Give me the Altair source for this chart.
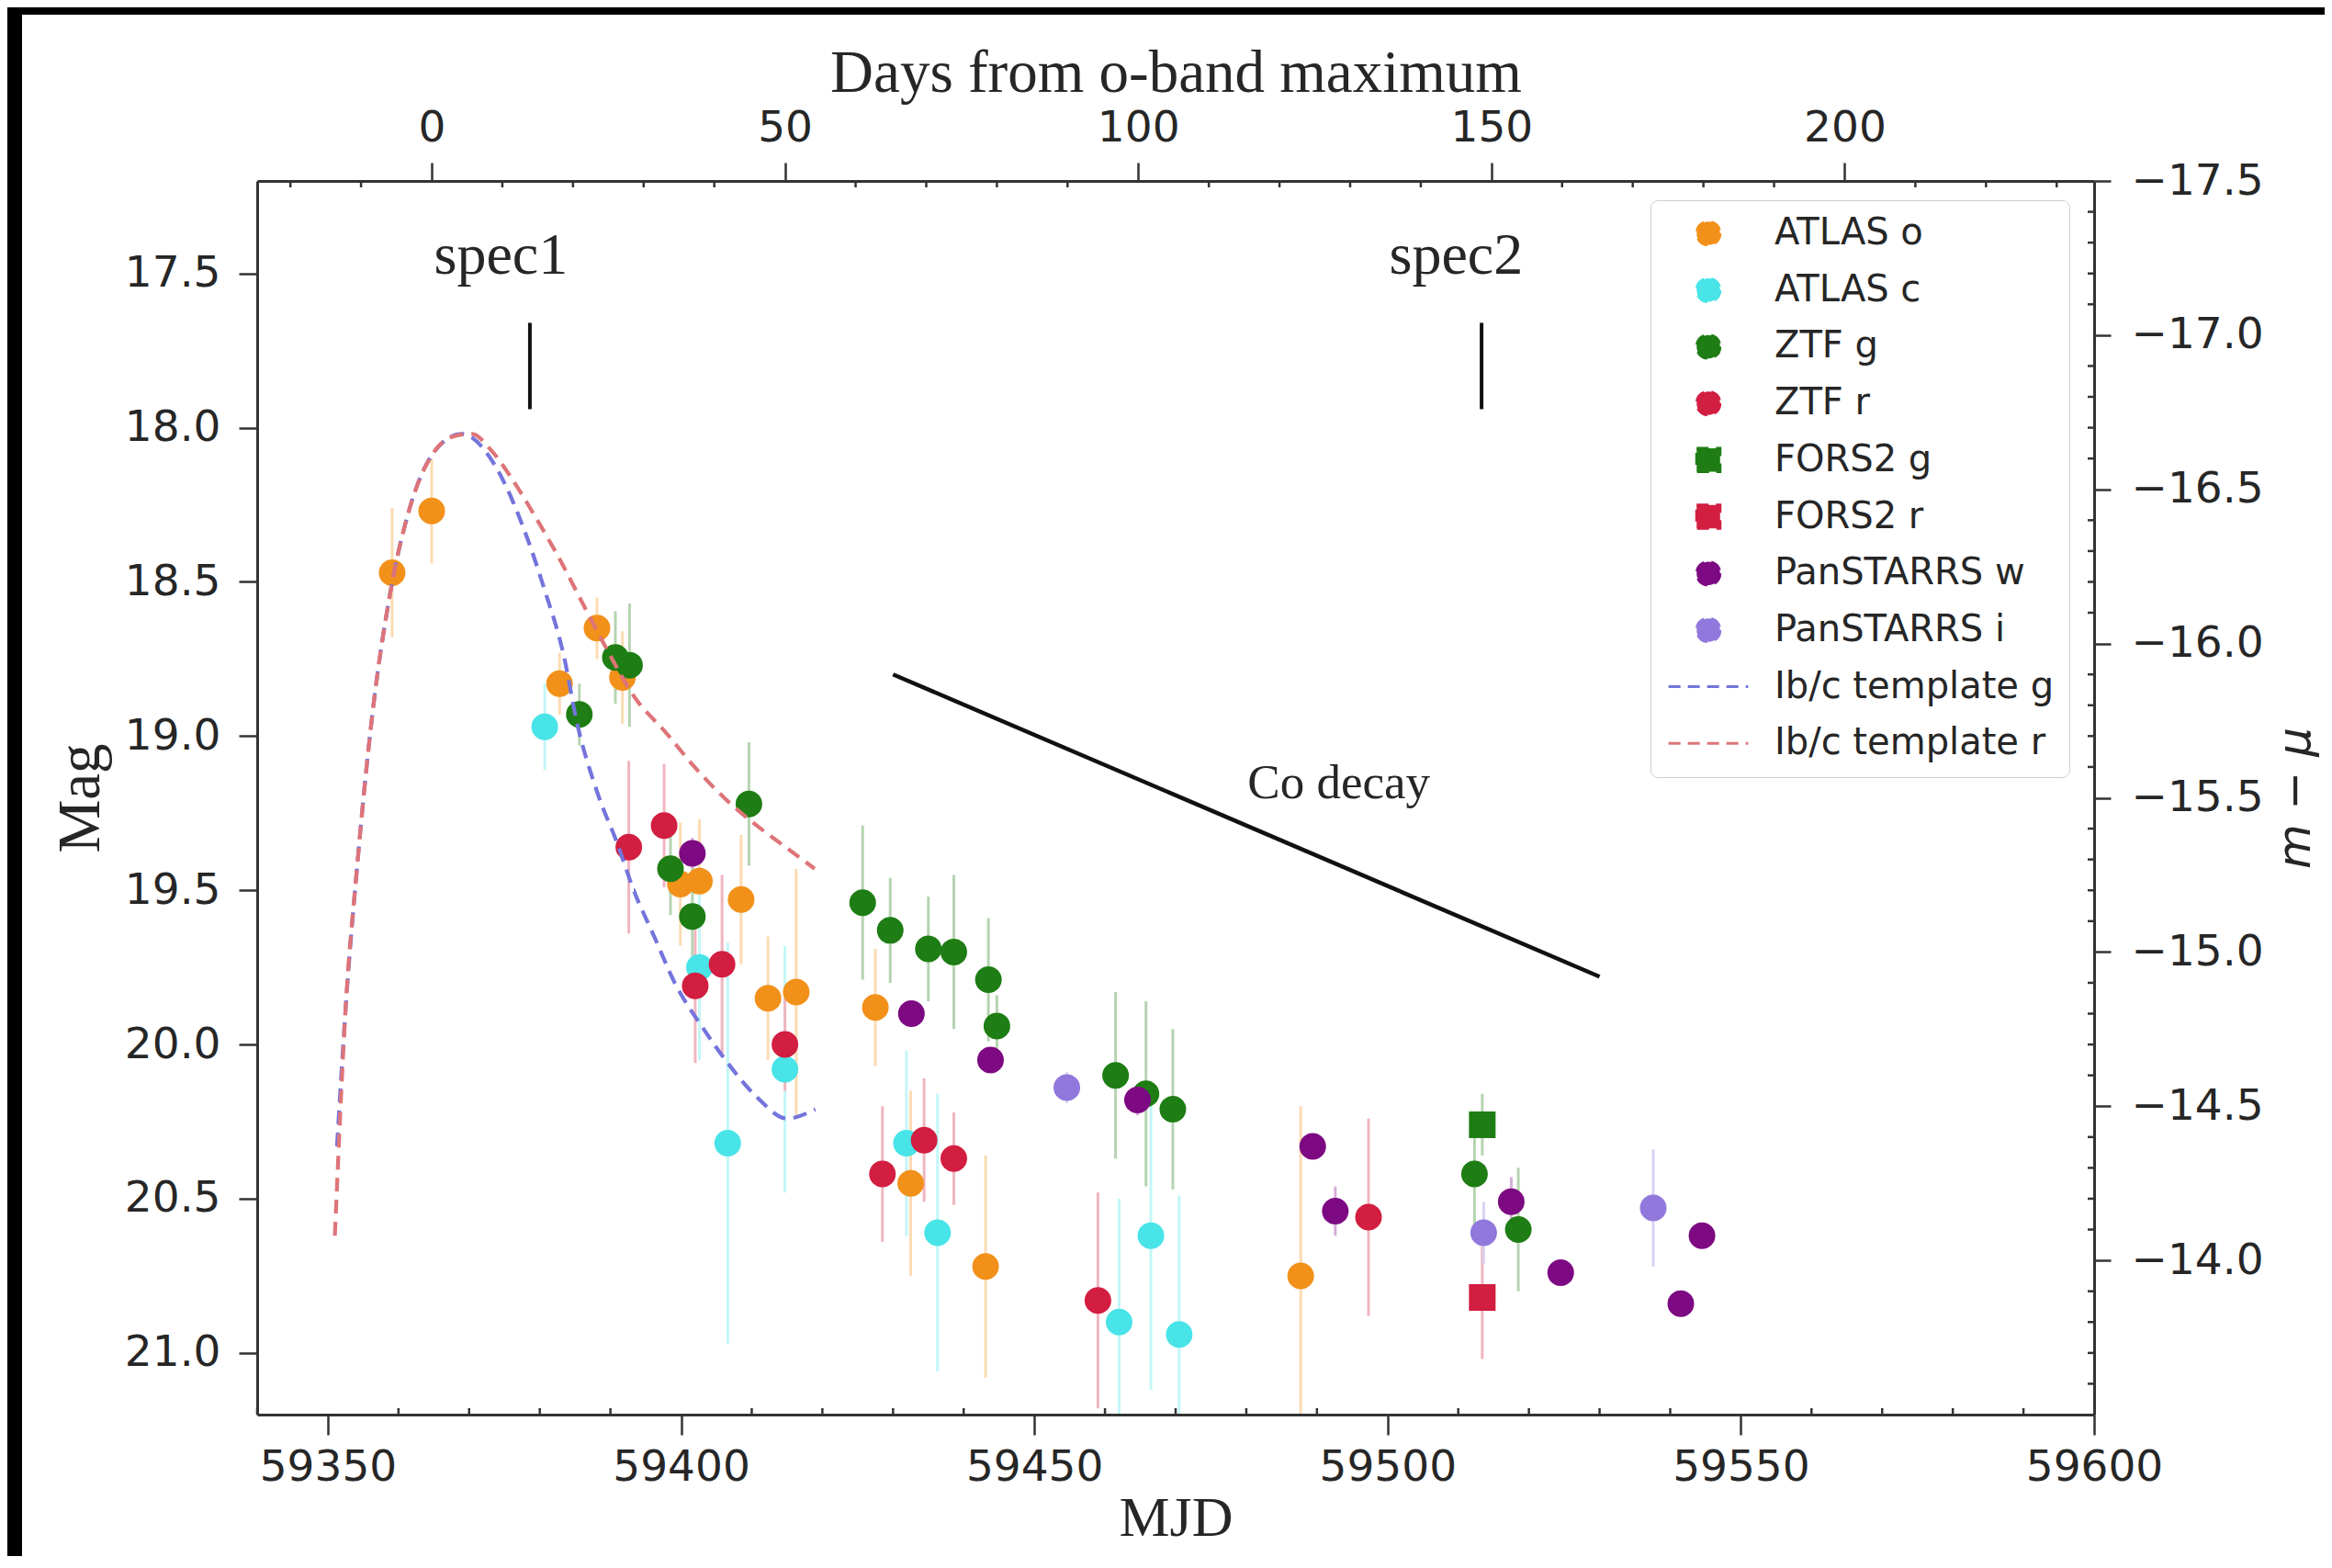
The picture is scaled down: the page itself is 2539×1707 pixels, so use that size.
import altair as alt
import pandas as pd

# ---------------- axis ranges & reference values ----------------
X_DOMAIN = [59340, 59600]          # MJD
MAG_DOMAIN = [17.2, 21.2]          # apparent magnitude (top -> bottom)
T0_MJD = 59364.7                   # o-band maximum
DIST_MOD = 34.7                    # distance modulus mu

x_tick_values = [59350, 59400, 59450, 59500, 59550, 59600]
y_tick_values = [17.5, 18.0, 18.5, 19.0, 19.5, 20.0, 20.5, 21.0]
day_tick_values = [0, 50, 100, 150, 200]
abs_tick_values = [-17.5, -17.0, -16.5, -16.0, -15.5, -15.0, -14.5, -14.0]

series_names = ["ATLAS o", "ATLAS c", "ZTF g", "ZTF r", "FORS2 g", "FORS2 r",
                "PanSTARRS w", "PanSTARRS i", "Ib/c template g", "Ib/c template r"]
series_colors = ["#f2911a", "#48e4e8", "#1e7d14", "#d21e41", "#1e7d14", "#d21e41",
                 "#7d0a82", "#9178dc", "#7474dc", "#de7478"]
LINE_SYMBOL = "M-3.4,0L3.4,0"
series_shapes = ["circle", "circle", "circle", "circle", "square", "square",
                 "circle", "circle", LINE_SYMBOL, LINE_SYMBOL]

# ---------------- photometry (MJD, mag, error) ----------------
atlas_o_mjd = [59359.1, 59364.7, 59382.8, 59388.1, 59391.7, 59399.9, 59402.6, 59408.5,
               59412.3, 59416.3, 59427.5, 59432.5, 59443.1, 59487.7]
atlas_o_mag = [18.47, 18.27, 18.83, 18.65, 18.81, 19.48, 19.47, 19.53,
               19.85, 19.83, 19.88, 20.45, 20.72, 20.75]
atlas_o_err = [0.21, 0.17, 0.10, 0.10, 0.15, 0.20, 0.20, 0.21,
               0.20, 0.40, 0.19, 0.30, 0.36, 0.55]

atlas_c_mjd = [59380.7, 59402.6, 59406.6, 59414.7, 59431.9, 59436.3, 59462.0, 59466.5, 59470.5]
atlas_c_mag = [18.97, 19.75, 20.32, 20.08, 20.32, 20.61, 20.90, 20.62, 20.94]
atlas_c_err = [0.14, 0.30, 0.65, 0.40, 0.30, 0.45, 0.40, 0.50, 0.45]

ztf_g_mjd = [59385.6, 59390.7, 59392.7, 59398.5, 59401.6, 59409.6, 59425.7, 59429.6, 59435.0,
             59438.6, 59443.5, 59444.7, 59461.5, 59465.8, 59469.6, 59512.3, 59518.5]
ztf_g_mag = [18.93, 18.745, 18.77, 19.43, 19.585, 19.22, 19.54, 19.63, 19.69,
             19.70, 19.79, 19.94, 20.10, 20.16, 20.21, 20.42, 20.60]
ztf_g_err = [0.10, 0.15, 0.20, 0.15, 0.20, 0.20, 0.25, 0.17, 0.17,
             0.25, 0.20, 0.10, 0.27, 0.30, 0.26, 0.20, 0.20]

ztf_r_mjd = [59392.6, 59397.6, 59402.0, 59405.8, 59414.7, 59428.5, 59434.4, 59438.6, 59459.0, 59497.3]
ztf_r_mag = [19.36, 19.29, 19.81, 19.74, 20.00, 20.42, 20.31, 20.37, 20.83, 20.56]
ztf_r_err = [0.28, 0.20, 0.25, 0.29, 0.15, 0.22, 0.20, 0.15, 0.35, 0.32]

fors2_g_mjd = [59513.4]
fors2_g_mag = [20.26]
fors2_g_err = [0.10]

fors2_r_mjd = [59513.4]
fors2_r_mag = [20.82]
fors2_r_err = [0.20]

ps_w_mjd = [59401.6, 59432.6, 59443.8, 59464.6, 59489.4, 59492.6, 59517.5, 59524.5, 59541.5, 59544.5]
ps_w_mag = [19.38, 19.90, 20.05, 20.18, 20.33, 20.54, 20.51, 20.74, 20.84, 20.62]
ps_w_err = [0.05, 0.04, 0.04, 0.05, 0.04, 0.08, 0.08, 0.04, 0.04, 0.04]

ps_i_mjd = [59454.6, 59513.6, 59537.6]
ps_i_mag = [20.14, 20.61, 20.53]
ps_i_err = [0.05, 0.10, 0.19]

# ---------------- Ib/c templates ----------------
tmpl_g_mjd = [59351.3, 59352.5, 59354.2, 59356.3, 59358.8, 59361.6, 59364.7, 59368.9, 59373.6,
              59377.1, 59380.6, 59383.5, 59385.2, 59388.1, 59391.0, 59393.3, 59396.2, 59399.1,
              59403.2, 59406.6, 59410.7, 59415.0, 59419.0]
tmpl_g_mag = [20.33, 19.89, 19.41, 18.93, 18.54, 18.26, 18.09, 18.02, 18.12,
              18.29, 18.52, 18.75, 18.95, 19.18, 19.35, 19.50, 19.65, 19.80,
              19.95, 20.06, 20.17, 20.24, 20.21]
tmpl_r_mjd = [59351.0, 59352.5, 59354.2, 59356.3, 59358.8, 59361.6, 59364.7, 59367.5, 59370.4,
              59373.0, 59375.9, 59379.4, 59382.9, 59386.3, 59390.0, 59393.3, 59397.9, 59401.9,
              59406.1, 59410.7, 59414.8, 59418.9]
tmpl_r_mag = [20.62, 19.89, 19.41, 18.93, 18.54, 18.26, 18.09, 18.03, 18.02,
              18.07, 18.16, 18.29, 18.43, 18.58, 18.74, 18.87, 18.99, 19.10,
              19.20, 19.29, 19.36, 19.43]

# ---------------- annotations ----------------
spec_mjd = [59378.6, 59513.3]
spec_mag_top = [17.66, 17.66]
spec_mag_bottom = [17.94, 17.94]
spec_label_mjd = [59374.5, 59509.7]
spec_label_mag = [17.5, 17.5]
spec_labels = ["spec1", "spec2"]

decay_mjd = [59430.0, 59530.0]
decay_mag = [18.80, 19.78]
decay_label_mjd = [59493.1]
decay_label_mag = [19.2]
decay_label = ["Co decay"]

# minor tick positions
mjd_minor = [v for v in range(59340, 59601, 10) if v % 50]
day_minor = [v for v in range(-20, 236, 10) if v % 50]
abs_minor = [v / 10 for v in range(-174, -134) if v % 5]


# ---------------- tables ----------------
def faded(hex_color, alpha=0.33):
    r, g, b = (int(hex_color[i:i + 2], 16) for i in (1, 3, 5))
    mix = [round(alpha * c + (1 - alpha) * 255) for c in (r, g, b)]
    return "#{:02x}{:02x}{:02x}".format(*mix)


phot = [
    ("ATLAS o", atlas_o_mjd, atlas_o_mag, atlas_o_err),
    ("ATLAS c", atlas_c_mjd, atlas_c_mag, atlas_c_err),
    ("ZTF g", ztf_g_mjd, ztf_g_mag, ztf_g_err),
    ("ZTF r", ztf_r_mjd, ztf_r_mag, ztf_r_err),
    ("FORS2 g", fors2_g_mjd, fors2_g_mag, fors2_g_err),
    ("FORS2 r", fors2_r_mjd, fors2_r_mag, fors2_r_err),
    ("PanSTARRS w", ps_w_mjd, ps_w_mag, ps_w_err),
    ("PanSTARRS i", ps_i_mjd, ps_i_mag, ps_i_err),
]
bar_color_of = {n: faded(c) for n, c in zip(series_names, series_colors)}
rows = []
for name, mj, mg, er in phot:
    for a, b, c in zip(mj, mg, er):
        rows.append({"series": name, "mjd": a, "mag": b, "lo": b - c, "hi": b + c,
                     "bar_color": bar_color_of[name]})
phot_df = pd.DataFrame(rows)

tg_df = pd.DataFrame({"mjd": tmpl_g_mjd, "mag": tmpl_g_mag})
tr_df = pd.DataFrame({"mjd": tmpl_r_mjd, "mag": tmpl_r_mag})
spec_df = pd.DataFrame({"mjd": spec_mjd, "top": spec_mag_top, "bottom": spec_mag_bottom})
spec_lab_df = pd.DataFrame({"mjd": spec_label_mjd, "mag": spec_label_mag, "label": spec_labels})
decay_df = pd.DataFrame({"mjd": [decay_mjd[0]], "mjd2": [decay_mjd[1]],
                         "mag": [decay_mag[0]], "mag2": [decay_mag[1]]})
decay_lab_df = pd.DataFrame({"mjd": decay_label_mjd, "mag": decay_label_mag, "label": decay_label})
mjd_minor_df = pd.DataFrame({"mjd": mjd_minor})
day_minor_df = pd.DataFrame({"days": day_minor})
abs_minor_df = pd.DataFrame({"absmag": abs_minor})

# ---------------- layout ----------------
PLOT_W, PLOT_H = 2000, 1343
PAD = {"left": 272, "top": 189, "right": 251, "bottom": 154}
AX_COL = "#333333"
TXT_COL = "#262626"

x_scale = alt.Scale(domain=X_DOMAIN, nice=False, zero=False)
y_scale = alt.Scale(domain=MAG_DOMAIN, reverse=True, nice=False, zero=False)
day_scale = alt.Scale(domain=[X_DOMAIN[0] - T0_MJD, X_DOMAIN[1] - T0_MJD], nice=False, zero=False)
abs_scale = alt.Scale(domain=[MAG_DOMAIN[0] - DIST_MOD, MAG_DOMAIN[1] - DIST_MOD],
                      reverse=True, nice=False, zero=False)
fill_scale = alt.Scale(domain=series_names, range=series_colors)
shape_scale = alt.Scale(domain=series_names, range=series_shapes)

x_axis = alt.Axis(title="MJD", orient="bottom", values=x_tick_values, format="d",
                  tickSize=22, labelPadding=12, titlePadding=2, titleFontSize=62,
                  labelFlush=False, labelOverlap=False, zindex=1)
y_axis = alt.Axis(title="Mag", orient="left", values=y_tick_values, format=".1f",
                  tickSize=20, labelPadding=20, titlePadding=14, zindex=1)
day_axis = alt.Axis(title="Days from o-band maximum", orient="top", values=day_tick_values,
                    format="d", tickSize=20, labelPadding=14, titlePadding=2,
                    labelFlush=False, labelOverlap=False, zindex=1)
abs_axis = alt.Axis(title="m − μ", orient="right", values=abs_tick_values, format=".1f",
                    tickSize=18, labelPadding=22, titlePadding=10, titleAngle=270,
                    titleBaseline="top", titleFont="DejaVu Sans", titleFontStyle="italic",
                    titleFontSize=50, zindex=1)

legend = alt.Legend(title=None, orient="none", legendX=1517, legendY=21, padding=16,
                    rowPadding=21.7, labelFont="DejaVu Sans", labelFontSize=40,
                    labelColor=TXT_COL, labelLimit=600, symbolSize=650, symbolStrokeWidth=3,
                    symbolDash=[13, 8], symbolOffset=27, labelOffset=52, symbolOpacity=1,
                    fillColor="rgba(255,255,255,0.85)", strokeColor="#cfcfcf", cornerRadius=8)


def X(field):
    return alt.X(field, scale=x_scale, axis=x_axis)


def Y(field):
    return alt.Y(field, scale=y_scale, axis=y_axis)


# white page area (reference has a dark frame along top and left edges)
page_bg = alt.Chart(pd.DataFrame({"k": [0]})).mark_rect(fill="white").encode(
    x=alt.value(-256), x2=alt.value(2251), y=alt.value(-181), y2=alt.value(1500))

err_bars = alt.Chart(phot_df).mark_rule(strokeWidth=3, clip=True).encode(
    x=X("mjd:Q"), y=Y("lo:Q"), y2="hi:Q",
    stroke=alt.Stroke("bar_color:N", scale=None),
)

points = alt.Chart(phot_df).mark_point(filled=True, size=676, strokeWidth=3, opacity=1,
                                       fillOpacity=1, strokeOpacity=1).encode(
    x=X("mjd:Q"), y=Y("mag:Q"),
    fill=alt.Fill("series:N", scale=fill_scale, legend=legend),
    stroke=alt.Stroke("series:N", scale=fill_scale, legend=legend),
    shape=alt.Shape("series:N", scale=shape_scale, legend=legend),
)

tmpl_g = alt.Chart(tg_df).mark_line(color=series_colors[8], strokeWidth=4.2,
                                     strokeDash=[15, 9], interpolate="monotone").encode(
    x=X("mjd:Q"), y=Y("mag:Q"))
tmpl_r = alt.Chart(tr_df).mark_line(color=series_colors[9], strokeWidth=4.2,
                                     strokeDash=[15, 9], interpolate="monotone").encode(
    x=X("mjd:Q"), y=Y("mag:Q"))

decay_line = alt.Chart(decay_df).mark_rule(color="#111111", strokeWidth=4.5).encode(
    x=X("mjd:Q"), x2="mjd2:Q", y=Y("mag:Q"), y2="mag2:Q")
decay_text = alt.Chart(decay_lab_df).mark_text(font="Liberation Serif", fontSize=53,
                                                color=TXT_COL, align="center",
                                                baseline="alphabetic").encode(
    x=X("mjd:Q"), y=Y("mag:Q"), text="label:N")

spec_lines = alt.Chart(spec_df).mark_rule(color="#111111", strokeWidth=4).encode(
    x=X("mjd:Q"), y=Y("top:Q"), y2="bottom:Q")
spec_text = alt.Chart(spec_lab_df).mark_text(font="Liberation Serif", fontSize=64,
                                              color=TXT_COL, align="center",
                                              baseline="alphabetic").encode(
    x=X("mjd:Q"), y=Y("mag:Q"), text="label:N")

minor_bottom = alt.Chart(mjd_minor_df).mark_rule(color=AX_COL, strokeWidth=2.5).encode(
    x=X("mjd:Q"), y=alt.value(PLOT_H), y2=alt.value(PLOT_H - 7))

main = alt.layer(page_bg, err_bars, points, tmpl_g, tmpl_r, decay_line, decay_text,
                 spec_lines, spec_text, minor_bottom)

minor_top = alt.Chart(day_minor_df).mark_rule(color=AX_COL, strokeWidth=2.5).encode(
    x=alt.X("days:Q", scale=day_scale, axis=day_axis),
    y=alt.value(0), y2=alt.value(7),
)
minor_right = alt.Chart(abs_minor_df).mark_rule(color=AX_COL, strokeWidth=2.5).encode(
    y=alt.Y("absmag:Q", scale=abs_scale, axis=abs_axis),
    x=alt.value(PLOT_W - 7), x2=alt.value(PLOT_W),
)
secondary = alt.layer(minor_top, minor_right)

chart = alt.layer(main, secondary).resolve_scale(
    x="independent", y="independent"
).properties(
    width=PLOT_W, height=PLOT_H,
    autosize=alt.AutoSizeParams(type="none"),
    padding=PAD,
    background="black",
).configure_view(
    stroke=None
).configure_axis(
    labelFont="DejaVu Sans", labelFontSize=47, labelColor=TXT_COL,
    titleFont="Liberation Serif", titleFontSize=65, titleFontWeight="normal",
    titleColor=TXT_COL, domainColor=AX_COL, domainWidth=3, tickColor=AX_COL,
    tickWidth=2.5, grid=False,
)

chart.save("out.html", embed_options={"renderer": "svg", "actions": False})
